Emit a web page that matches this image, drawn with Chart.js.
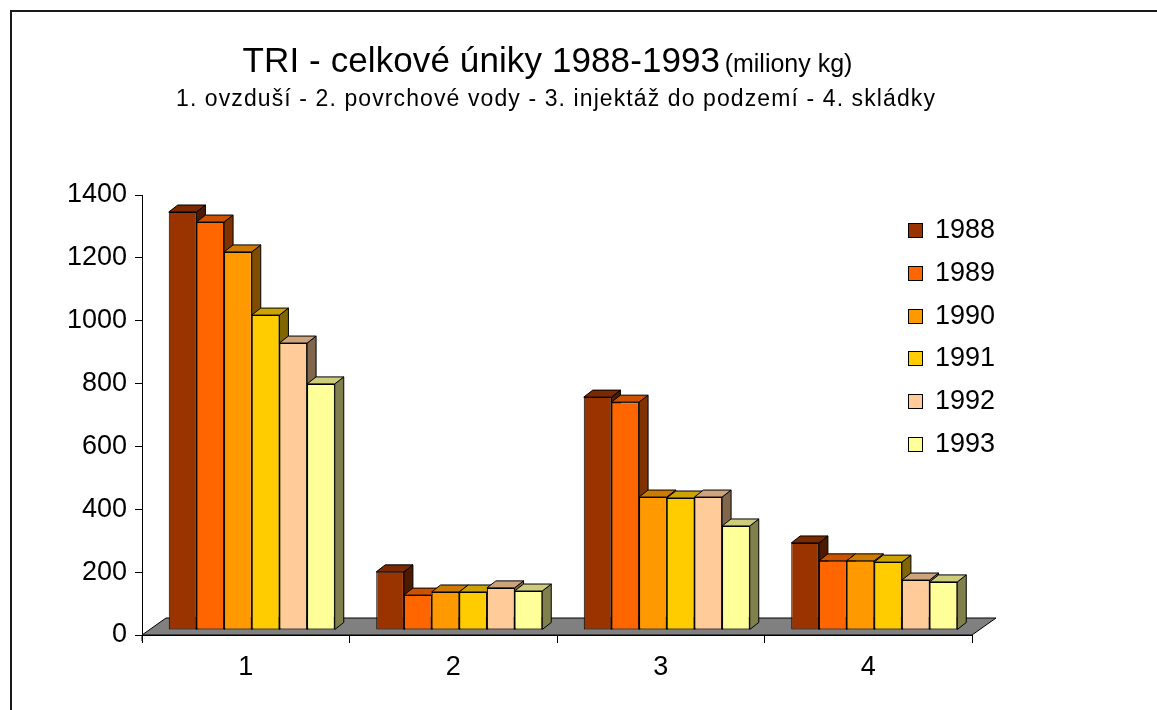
<!DOCTYPE html>
<html>
<head>
<meta charset="utf-8">
<script src="https://cdn.jsdelivr.net/npm/chart.js@4.4.1/dist/chart.umd.min.js"></script>
<style>
  html, body { margin:0; padding:0; background:#fff; }
  #wrap { position:relative; width:1157px; height:710px; overflow:hidden; font-family:"Liberation Sans", Arial, sans-serif; }
  #c { position:absolute; left:0; top:0; }
  #frame { position:absolute; left:10px; top:10px; width:1200px; height:800px; border-top:2px solid #1a1a1a; border-left:2px solid #1a1a1a; box-sizing:border-box; }
  #title { position:absolute; left:0; width:1095px; top:40px; text-align:center; white-space:nowrap; color:#000; line-height:40px; }
  #title .main { font-size:35px; letter-spacing:0.1px; }
  #title .unit { font-size:25px; }
  #sub { position:absolute; left:0; width:1112px; top:84px; text-align:center; font-size:23px; letter-spacing:1.1px; white-space:nowrap; color:#000; line-height:28px; }
  #legend { position:absolute; left:908px; top:208px; }
  .li { position:relative; height:42.8px; }
  .sw { position:absolute; left:0; top:15px; width:15px; height:15px; border:1px solid #000; box-sizing:border-box; }
  .lt { position:absolute; left:27px; top:6px; font-size:27px; line-height:31px; color:#000; }
</style>
</head>
<body>
<div id="wrap">
  <canvas id="c" width="1157" height="710"></canvas>
  <div id="frame"></div>
  <div id="title"><span class="main">TRI - celkové úniky 1988-1993</span> <span class="unit">(miliony kg)</span></div>
  <div id="sub">1. ovzduší - 2. povrchové vody - 3. injektáž do podzemí - 4. skládky</div>
  <div id="legend"></div>
</div>
<script>
// ---- data ----
const categories = ["1", "2", "3", "4"];
const years = ["1988", "1989", "1990", "1991", "1992", "1993"];
const v1988 = [1330, 185, 741, 277];
const v1989 = [1298, 111, 725, 220];
const v1990 = [1203, 121, 423, 220];
const v1991 = [1002, 121, 420, 216];
const v1992 = [913, 134, 423, 159];
const v1993 = [783, 124, 331, 153];
const seriesValues = [v1988, v1989, v1990, v1991, v1992, v1993];
const yTicksMax = 1400;
const yTickStep = 200;

// ---- styles ----
const colors = ["#993300", "#FF6600", "#FF9900", "#FFCC00", "#FFCC99", "#FFFF99"];

function shade(hex, f) {
  const n = parseInt(hex.slice(1), 16);
  const r = Math.round(((n >> 16) & 255) * f);
  const g = Math.round(((n >> 8) & 255) * f);
  const b = Math.round((n & 255) * f);
  return "rgb(" + r + "," + g + "," + b + ")";
}

// legend (HTML)
const leg = document.getElementById("legend");
years.forEach((y, i) => {
  const d = document.createElement("div");
  d.className = "li";
  d.innerHTML = '<div class="sw" style="background:' + colors[i] + '"></div><div class="lt">' + y + '</div>';
  leg.appendChild(d);
});

const BAR_SHIFT = { x: 6, y: -5 };   // bars sit slightly back on the floor
const DEPTH = { x: 9, y: -7 };       // bar depth
const FLOOR = { x: 24, y: -17 };     // floor depth

const threeD = {
  id: "threeD",
  beforeDatasetsDraw(chart) {
    const ctx = chart.ctx;
    const a = chart.chartArea;
    // floor
    ctx.save();
    ctx.beginPath();
    ctx.moveTo(a.left, a.bottom);
    ctx.lineTo(a.right, a.bottom);
    ctx.lineTo(a.right + FLOOR.x, a.bottom + FLOOR.y);
    ctx.lineTo(a.left + FLOOR.x, a.bottom + FLOOR.y);
    ctx.closePath();
    ctx.fillStyle = "#808080";
    ctx.fill();
    ctx.lineWidth = 1;
    ctx.strokeStyle = "#000";
    ctx.stroke();
    // axis line continues a little below the floor
    ctx.beginPath();
    ctx.moveTo(a.left, a.bottom);
    ctx.lineTo(a.left, a.bottom + 6);
    ctx.stroke();
    ctx.restore();

    ctx.save();
    ctx.translate(BAR_SHIFT.x, BAR_SHIFT.y);
    // side & top faces in dataset order
    chart.data.datasets.forEach((ds, di) => {
      const meta = chart.getDatasetMeta(di);
      meta.data.forEach((bar) => {
        const p = bar.getProps(["x", "y", "base", "width"], true);
        const l = p.x - p.width / 2, r = p.x + p.width / 2, t = p.y, b = p.base;
        ctx.lineWidth = 1;
        ctx.strokeStyle = "#000";
        // side
        ctx.beginPath();
        ctx.moveTo(r, t);
        ctx.lineTo(r + DEPTH.x, t + DEPTH.y);
        ctx.lineTo(r + DEPTH.x, b + DEPTH.y);
        ctx.lineTo(r, b);
        ctx.closePath();
        ctx.fillStyle = shade(colors[di], 0.5);
        ctx.fill();
        ctx.stroke();
        // top
        ctx.beginPath();
        ctx.moveTo(l, t);
        ctx.lineTo(l + DEPTH.x, t + DEPTH.y);
        ctx.lineTo(r + DEPTH.x, t + DEPTH.y);
        ctx.lineTo(r, t);
        ctx.closePath();
        ctx.fillStyle = shade(colors[di], 0.8);
        ctx.fill();
        ctx.stroke();
      });
    });
  },
  afterDatasetsDraw(chart) {
    chart.ctx.restore();
  }
};

new Chart(document.getElementById("c"), {
  type: "bar",
  data: {
    labels: categories,
    datasets: years.map((y, i) => ({
      label: y,
      data: seriesValues[i],
      backgroundColor: colors[i],
      borderColor: "#000",
      borderWidth: 1,
      borderSkipped: false,
      categoryPercentage: 0.8,
      barPercentage: 1.0
    }))
  },
  options: {
    responsive: false,
    animation: false,
    devicePixelRatio: 1,
    layout: { padding: { left: 0, right: 185, top: 195, bottom: 0 } },
    plugins: {
      legend: { display: false },
      title: { display: false },
      tooltip: { enabled: false }
    },
    scales: {
      x: {
        offset: true,
        afterFit(s) { s.height = 75; },
        grid: { offset: true, drawOnChartArea: false, tickLength: 8, color: "#000", lineWidth: 1 },
        border: { display: true, color: "#000", width: 1 },
        ticks: { color: "#000", padding: 8, font: { family: "'Liberation Sans', Arial, sans-serif", size: 27 } }
      },
      y: {
        min: 0,
        max: yTicksMax,
        afterFit(s) { s.width = 142; },
        grid: { drawOnChartArea: false, tickLength: 7, color: "#000", lineWidth: 1 },
        border: { display: true, color: "#000", width: 1 },
        ticks: {
          stepSize: yTickStep,
          color: "#000",
          padding: 8,
          callback: (v) => String(v),
          font: { family: "'Liberation Sans', Arial, sans-serif", size: 27 }
        }
      }
    }
  },
  plugins: [threeD]
});
</script>
</body>
</html>
